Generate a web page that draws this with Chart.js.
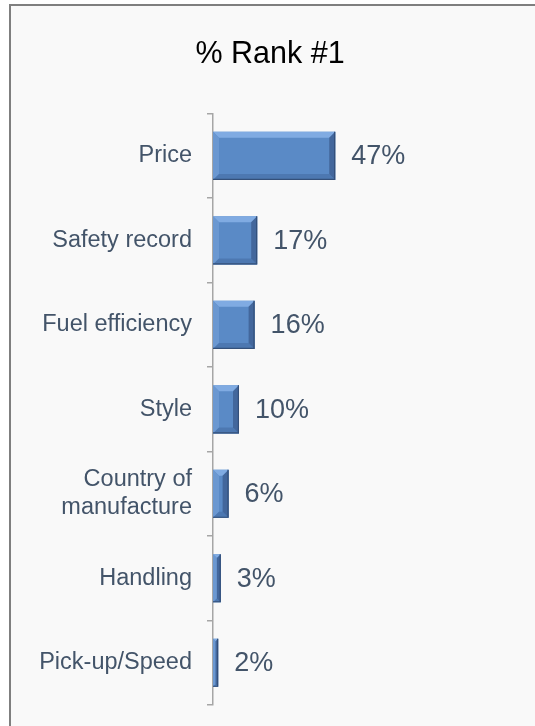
<!DOCTYPE html>
<html lang="en">
<head>
    <meta charset="UTF-8">
    <title>% Rank #1</title>
    <script src="https://cdn.jsdelivr.net/npm/chart.js"></script>
    <style>
        html, body { margin: 0; background: #ffffff; overflow: hidden; width: 535px; height: 726px; }
        #panel { position: absolute; left: 11px; top: 6px; width: 524px; height: 720px; background: #f9f9f9; }
        #lineLeft { position: absolute; left: 9px; top: 4px; width: 2px; height: 722px; background: #7f7f7f; }
        #lineTop { position: absolute; left: 9px; top: 4px; width: 526px; height: 2px; background: #7f7f7f; }
        canvas { display: block; }
    </style>
</head>
<body>
    <div id="lineLeft"></div>
    <div id="lineTop"></div>
    <div id="panel"><canvas id="rankChart" width="524" height="720"></canvas></div>

    <script>
        var categories = ['Price', 'Safety record', 'Fuel efficiency', 'Style', ['Country of', 'manufacture'], 'Handling', 'Pick-up/Speed'];
        var rankOne = [47, 17, 16, 10, 6, 3, 2];
        var valueLabels = ['47%', '17%', '16%', '10%', '6%', '3%', '2%'];

        // bevelled bars + value labels
        var bevelPlugin = {
            id: 'bevel',
            afterDatasetsDraw: function(chart) {
                var ctx = chart.ctx;
                var meta = chart.getDatasetMeta(0);
                meta.data.forEach(function(bar, i) {
                    var p = bar.getProps(['x', 'y', 'base', 'height'], true);
                    var l = Math.min(p.base, p.x), r = Math.max(p.base, p.x);
                    var t = p.y - p.height / 2, b = p.y + p.height / 2;
                    var bv = Math.min(6, (r - l) / 2, p.height / 2);
                    ctx.save();
                    function poly(pts, color) {
                        ctx.beginPath();
                        ctx.moveTo(pts[0][0], pts[0][1]);
                        for (var k = 1; k < pts.length; k++) ctx.lineTo(pts[k][0], pts[k][1]);
                        ctx.closePath();
                        ctx.fillStyle = color;
                        ctx.fill();
                    }
                    poly([[l, t], [r, t], [r - bv, t + bv], [l + bv, t + bv]], '#80abe2');
                    poly([[l, t], [l + bv, t + bv], [l + bv, b - bv], [l, b]], '#6b98d1');
                    poly([[l, b], [l + bv, b - bv], [r - bv, b - bv], [r, b]], '#4d78b1');
                    poly([[r, t], [r, b], [r - bv, b - bv], [r - bv, t + bv]], '#43679c');
                    // dark outer edge on right and bottom only
                    ctx.strokeStyle = '#34507a';
                    ctx.lineWidth = 1.2;
                    ctx.beginPath();
                    ctx.moveTo(r - 0.6, t);
                    ctx.lineTo(r - 0.6, b - 0.6);
                    ctx.lineTo(l, b - 0.6);
                    ctx.stroke();

                    ctx.fillStyle = '#435469';
                    ctx.font = '27px "Liberation Sans", Arial, sans-serif';
                    ctx.textAlign = 'left';
                    ctx.textBaseline = 'middle';
                    ctx.fillText(valueLabels[i], r + 16, p.y + 1);
                    ctx.restore();
                });
            }
        };

        var ctx = document.getElementById('rankChart').getContext('2d');
        var rankChart = new Chart(ctx, {
            type: 'bar',
            data: {
                labels: categories,
                datasets: [{
                    data: rankOne,
                    backgroundColor: '#5a8ac6',
                    borderWidth: 0,
                    barPercentage: 0.57,
                    categoryPercentage: 1
                }]
            },
            options: {
                indexAxis: 'y',
                responsive: false,
                animation: false,
                layout: { padding: { top: 0, right: 6, bottom: 21, left: 0 } },
                plugins: {
                    legend: { display: false },
                    tooltip: { enabled: false },
                    title: {
                        display: true,
                        text: '% Rank #1',
                        color: '#000000',
                        font: { family: '"Liberation Sans", Arial, sans-serif', size: 30.5, weight: 'normal' },
                        padding: { top: 30, bottom: 41 }
                    }
                },
                scales: {
                    x: { display: false, min: 0, max: 121.5 },
                    y: {
                        afterFit: function(scale) {
                            scale.width = 202;
                            // label padding would otherwise eat into the plot height
                            scale.paddingTop = 0;
                            scale.paddingBottom = 0;
                        },
                        grid: {
                            offset: true,
                            drawOnChartArea: false,
                            drawTicks: true,
                            tickLength: 6,
                            color: '#a6a6a6',
                            lineWidth: 1.5
                        },
                        border: { color: '#a6a6a6', width: 1.5 },
                        ticks: {
                            color: '#435469',
                            padding: 15,
                            font: { family: '"Liberation Sans", Arial, sans-serif', size: 23.5 }
                        }
                    }
                }
            },
            plugins: [bevelPlugin]
        });
    </script>
</body>
</html>
